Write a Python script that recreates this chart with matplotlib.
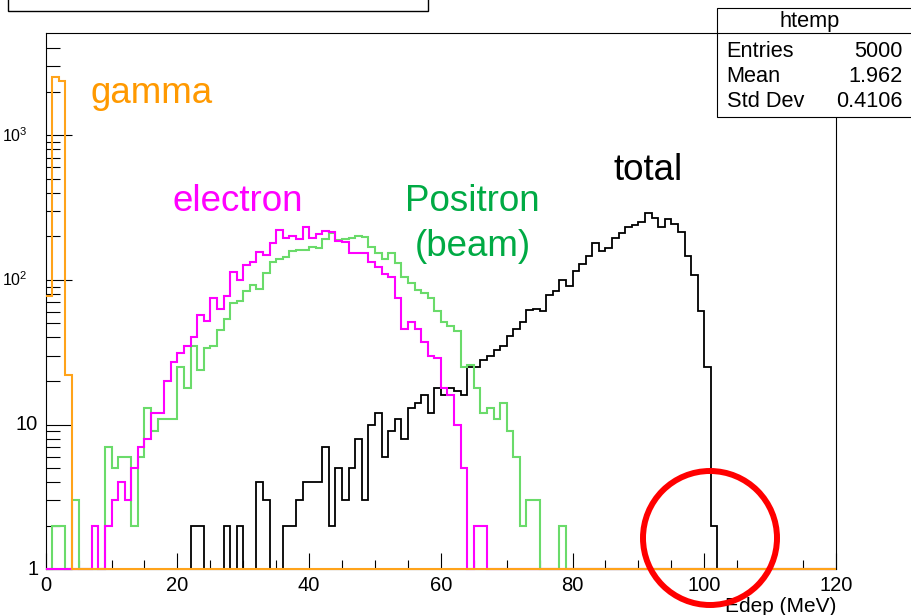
import numpy as np
import matplotlib
matplotlib.use("Agg")
import matplotlib.pyplot as plt
from matplotlib.patches import Rectangle, Ellipse
from matplotlib.transforms import offset_copy
from matplotlib.ticker import FixedLocator, NullFormatter

plt.rcParams['font.family'] = ['Liberation Sans', 'DejaVu Sans']
plt.rcParams['mathtext.fontset'] = 'custom'
plt.rcParams['mathtext.rm'] = 'Liberation Sans'
plt.rcParams['mathtext.it'] = 'Liberation Sans:italic'

# ---------------- data (1 MeV bins, 0..120 MeV) ----------------
edges = np.arange(0, 121, 1)

gamma = [78, 2530, 2370, 22] + [0] * 116

electron = ([0, 0, 0, 0, 0, 0, 0, 2, 0, 2,
             3, 4, 3, 5, 7, 8, 12, 12, 20, 27,
             31, 35, 40, 57, 52, 75, 63, 78, 113, 100,
             126, 132, 155, 149, 181, 222, 196, 202, 192, 231,
             194, 208, 219, 213, 187, 183, 153, 153, 154, 132,
             122, 110, 105, 75, 46, 51, 46, 37, 30, 29,
             18, 16, 10, 5, 0, 2, 2] + [0] * 53)

positron = ([0, 2, 2, 0, 3, 0, 0, 0, 0, 7,
             5, 6, 6, 2, 6, 13, 9, 11, 11, 11,
             25, 18, 35, 24, 34, 35, 45, 54, 69, 72,
             84, 92, 86, 111, 134, 139, 145, 158, 160, 160,
             169, 165, 192, 210, 190, 191, 195, 202, 197, 169,
             154, 139, 154, 131, 105, 95, 85, 81, 75, 61,
             51, 48, 44, 25, 26, 18, 12, 13, 11, 14,
             9, 6, 2, 3, 3, 0, 0, 0, 2] + [0] * 41)

total = ([0] * 22 +
         [2, 2, 0, 0, 0, 2, 0, 2, 0, 0,
          4, 3, 0, 0, 2, 2, 3, 4, 4, 4,
          7, 2, 5, 3, 5, 8, 3, 10, 12, 6,
          9, 11, 8, 13, 14, 16, 12, 18, 16, 18,
          17, 16, 25, 25, 28, 30, 33, 35, 41, 46,
          51, 62, 63, 61, 79, 84, 100, 91, 115, 128,
          147, 181, 158, 165, 194, 212, 233, 239, 253, 288,
          269, 231, 264, 242, 213, 147, 108, 61, 25, 2] + [0] * 18)

x_major = [0, 20, 40, 60, 80, 100, 120]
y_major = [1, 10, 100, 1000]
y_labels = ['1', '10', r'$\mathregular{10^{2}}$', r'$\mathregular{10^{3}}$']

# ---------------- figure ----------------
W, H, DPI = 911, 615, 100
fig = plt.figure(figsize=(W / DPI, H / DPI), dpi=DPI)
L, R, B, T = 45.7, 836.0, 569.3, 33.3
ax = fig.add_axes([L / W, 1 - B / H, (R - L) / W, (B - T) / H])
ax.set_yscale('log')
ax.set_xlim(0, 120)
ax.set_ylim(1, 5060)

def draw(vals, color, lw=1.5):
    v = np.asarray(vals, float)
    v = np.where(v > 1, v, 1.0)   # empty bins sit on the frame like ROOT
    ax.stairs(v, edges, color=color, lw=lw, baseline=None,
              zorder=3, clip_on=False)

draw(total, '#000000', 1.3)
draw(positron, '#6ADB6A', 1.5)
draw(electron, '#FF00FF', 1.5)
draw(gamma, '#FFA31A', 1.5)

# ticks
ax.xaxis.set_major_locator(FixedLocator(x_major))
ax.xaxis.set_minor_locator(FixedLocator([v for v in range(5, 120, 5) if v % 20]))
minor_y = [m * 10 ** d for d in range(0, 4) for m in range(2, 10) if m * 10 ** d < 4500]
ax.yaxis.set_major_locator(FixedLocator(y_major))
ax.yaxis.set_minor_locator(FixedLocator(minor_y))
ax.yaxis.set_major_formatter(NullFormatter())
ax.yaxis.set_minor_formatter(NullFormatter())
ax.tick_params(axis='x', which='major', direction='in', length=11.5, width=0.8,
               labelsize=14.5, pad=5)
ax.tick_params(axis='x', which='minor', direction='in', length=6.5, width=0.8)
ax.tick_params(axis='y', which='major', direction='in', length=18.4, width=0.8)
ax.tick_params(axis='y', which='minor', direction='in', length=10, width=0.8)
for s in ax.spines.values():
    s.set_linewidth(0.8)

for v, lab, dx, fs in zip(y_major, y_labels, [7.5, 8.4, 18.4, 18.4],
                          [14.5, 14.5, 11.5, 11.5]):
    tr = offset_copy(ax.get_yaxis_transform(), fig=fig, x=-dx, units='dots')
    ax.text(0, v, lab, transform=tr, ha='right', va='center', fontsize=fs)

ax.text(1.0, -0.052, 'Edep (MeV)', transform=ax.transAxes, ha='right',
        va='top', fontsize=15)

# labels
ax.text(6.73, 1660, 'gamma', color='#FF9900', fontsize=26.5, va='baseline')
ax.text(19.18, 298, 'electron', color='#FF00FF', fontsize=26.5, va='baseline')
ax.text(64.8, 298, 'Positron', color='#00AA44', fontsize=26.5, va='baseline', ha='center')
ax.text(64.8, 147, '(beam)', color='#00AA44', fontsize=26.5, va='baseline', ha='center')
ax.text(86.19, 494, 'total', color='black', fontsize=26.5, va='baseline')

# stats box
def fx(px):
    return px / W

def fy(py):
    return 1 - py / H

fig.patches.append(Rectangle((fx(716.7), fy(116.7)), fx(915) - fx(716.7),
                             fy(8.3) - fy(116.7), transform=fig.transFigure,
                             facecolor='white', edgecolor='black', lw=0.8, zorder=5))
fig.lines.append(plt.Line2D([fx(716.7), fx(915)], [fy(33.3), fy(33.3)],
                            transform=fig.transFigure, color='black', lw=0.8, zorder=6))
fig.text(fx(810), fy(27), 'htemp', ha='center', va='baseline', fontsize=15.7, zorder=7)
for lab, val, py in [('Entries', '5000', 56.7), ('Mean', '1.962', 81.7),
                     ('Std Dev', '0.4106', 106.7)]:
    fig.text(fx(726.7), fy(py), lab, ha='left', va='baseline', fontsize=15.7, zorder=7)
    fig.text(fx(902.7), fy(py), val, ha='right', va='baseline', fontsize=15.7, zorder=7)

# title box (cut at top)
fig.patches.append(Rectangle((fx(8.3), fy(11)), fx(427.7) - fx(8.3), 0.1,
                             transform=fig.transFigure, facecolor='white',
                             edgecolor='black', lw=1.0, zorder=5))

# red circle
fig.patches.append(Ellipse((fx(710), fy(538)), 2 * 67 / W, 2 * 67 / H,
                           transform=fig.transFigure, facecolor='none',
                           edgecolor='#FF0000', lw=4.3, zorder=8))

fig.savefig('out.png', dpi=DPI)
